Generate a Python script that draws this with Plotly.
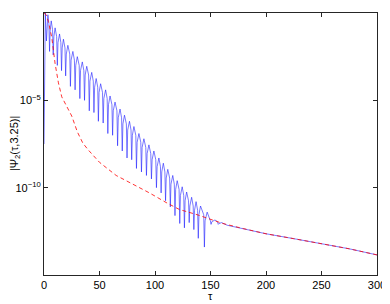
import numpy as np
import plotly.graph_objects as go

# values (log10 of |Psi_2|); one row per oscillation:
# dip, rising shoulder, peak, falling shoulder
tau_blue = [0, 1.2,
            2.2, 2.8, 3.5, 4.4,
            5.0, 5.6, 6.5, 7.7,
            8.3, 8.9, 10.0, 11.4,
            12.0, 12.6, 14.0, 15.2,
            15.8, 16.4, 17.5, 18.9,
            19.5, 20.1, 21.5, 23.2,
            23.8, 24.4, 26.0, 27.4,
            28.0, 28.6, 30.0, 31.7,
            32.3, 32.9, 34.5, 35.9,
            36.5, 37.1, 38.5, 40.2,
            40.8, 41.4, 43.0, 44.4,
            45.0, 45.6, 47.0, 48.4,
            49.0, 49.6, 51.0, 52.7,
            53.3, 53.9, 55.5, 56.9,
            57.5, 58.1, 59.5, 61.2,
            61.8, 62.4, 64.0, 65.7,
            66.3, 66.9, 68.5, 69.9,
            70.5, 71.1, 72.5, 74.2,
            74.8, 75.4, 77.0, 78.4,
            79.0, 79.6, 81.0, 82.7,
            83.3, 83.9, 85.5, 87.2,
            87.8, 88.4, 90.0, 91.7,
            92.3, 92.9, 94.5, 96.2,
            96.8, 97.4, 99.0, 100.7,
            101.3, 101.9, 103.5, 104.9,
            105.5, 106.1, 107.5, 108.9,
            109.5, 110.1, 111.5, 113.2,
            113.8, 114.4, 116.0, 117.4,
            118.0, 118.6, 120.0, 121.7,
            122.3, 122.9, 124.5, 125.9,
            126.5, 127.1, 128.5, 130.2,
            130.8, 131.4, 133.0, 134.4,
            135.0, 135.6, 137.0, 138.4,
            139.0, 139.6, 141.0, 143.9,
            144.5, 145.1, 147.0, 149.9,
            150.5, 151.2, 154.0, 156.3,
            157.0, 157.7, 160.0,
            165, 180, 200, 225, 250, 275, 300]
log_blue = [-7.5, 0.0,
            -1.6, -0.6, -0.1, -0.6,
            -2.2, -0.95, -0.45, -0.95,
            -2.4, -1.35, -0.85, -1.35,
            -3.0, -1.7, -1.2, -1.7,
            -3.3, -2.0, -1.5, -2.0,
            -3.6, -2.35, -1.85, -2.35,
            -4.2, -2.7, -2.2, -2.7,
            -4.4, -3.0, -2.5, -3.0,
            -4.9, -3.3, -2.8, -3.3,
            -5.0, -3.55, -3.05, -3.55,
            -5.6, -3.9, -3.4, -3.9,
            -5.7, -4.25, -3.75, -4.25,
            -6.2, -4.55, -4.05, -4.55,
            -6.3, -4.9, -4.4, -4.9,
            -6.9, -5.25, -4.75, -5.25,
            -7.0, -5.6, -5.1, -5.6,
            -7.6, -6.0, -5.5, -6.0,
            -7.9, -6.35, -5.85, -6.35,
            -8.3, -6.7, -6.2, -6.7,
            -8.4, -7.0, -6.5, -7.0,
            -8.9, -7.4, -6.9, -7.4,
            -9.1, -7.7, -7.2, -7.7,
            -9.3, -8.05, -7.55, -8.05,
            -9.5, -8.4, -7.9, -8.4,
            -10.0, -8.8, -8.3, -8.8,
            -10.3, -9.1, -8.6, -9.1,
            -10.75, -9.45, -8.95, -9.45,
            -11.1, -9.8, -9.3, -9.8,
            -11.6, -10.1, -9.6, -10.1,
            -12.05, -10.45, -9.95, -10.45,
            -12.3, -10.75, -10.25, -10.75,
            -12.0, -11.05, -10.55, -11.05,
            -12.4, -11.3, -10.8, -11.3,
            -12.9, -11.55, -11.05, -11.55,
            -13.4, -11.9, -11.4, -11.9,
            -12.1, -11.95, -11.85, -11.95,
            -12.1, -12.05, -12.0,
            -12.15, -12.35, -12.64, -12.92, -13.2, -13.5, -13.85]

tau_red = [0, 2, 4, 7, 10, 13, 16, 20, 25, 30, 35, 40, 50, 65, 80, 95, 110,
           122, 138, 150, 161, 180, 200, 225, 250, 275, 300]
log_red = [0, -0.1, -0.5, -1.4, -2.9, -4.0, -4.8, -5.3, -5.9, -6.8, -7.45, -7.85,
           -8.55, -9.3, -9.8, -10.3, -10.85, -11.25, -11.55, -11.8, -12.05, -12.35,
           -12.64, -12.92, -13.2, -13.5, -13.85]

x_ticks = [0, 50, 100, 150, 200, 250, 300]
y_ticks = [1, 1e-5, 1e-10]
y_ticktext = ["10<sup>0</sup>", "10<sup>−5</sup>", "10<sup>−10</sup>"]

assert len(tau_blue) == len(log_blue)
assert len(tau_red) == len(log_red)

FONT = "Liberation Sans, Arial, sans-serif"

fig = go.Figure()
fig.add_trace(go.Scatter(x=tau_blue, y=np.power(10.0, log_blue), mode="lines",
                         line=dict(color="#1f1fff", width=0.6)))
fig.add_trace(go.Scatter(x=tau_red, y=np.power(10.0, log_red), mode="lines",
                         line=dict(color="#ff0000", width=0.8, dash="4px,3px")))

axis_style = dict(showline=True, linecolor="#262626", linewidth=1, mirror="allticks",
                  ticks="inside", ticklen=4, tickcolor="#262626", showgrid=False,
                  zeroline=False, automargin=False,
                  tickfont=dict(family=FONT, size=11, color="black"))

fig.update_xaxes(range=[0, 300], tickvals=x_ticks, **axis_style)
fig.update_yaxes(type="log", range=[-15, 0], tickvals=y_ticks, ticktext=y_ticktext,
                 **axis_style)

# the page adds an 8px body margin: plot area lands at x 44..377, y 13..275
fig.add_annotation(text="|Ψ<sub>2</sub>(τ,3.25)|", textangle=-90, showarrow=False,
                   xref="paper", yref="paper", x=-0.087, y=0.5,
                   xanchor="center", yanchor="middle",
                   font=dict(family=FONT, size=11, color="black"))
fig.add_annotation(text="τ", showarrow=False, xref="paper", yref="paper",
                   x=0.5, y=-0.082, xanchor="center", yanchor="middle",
                   font=dict(family=FONT, size=11, color="black"))

fig.update_layout(width=382, height=296, showlegend=False,
                  margin=dict(l=36, r=13, t=5, b=29),
                  plot_bgcolor="white", paper_bgcolor="white")

fig.write_html("out.html")
